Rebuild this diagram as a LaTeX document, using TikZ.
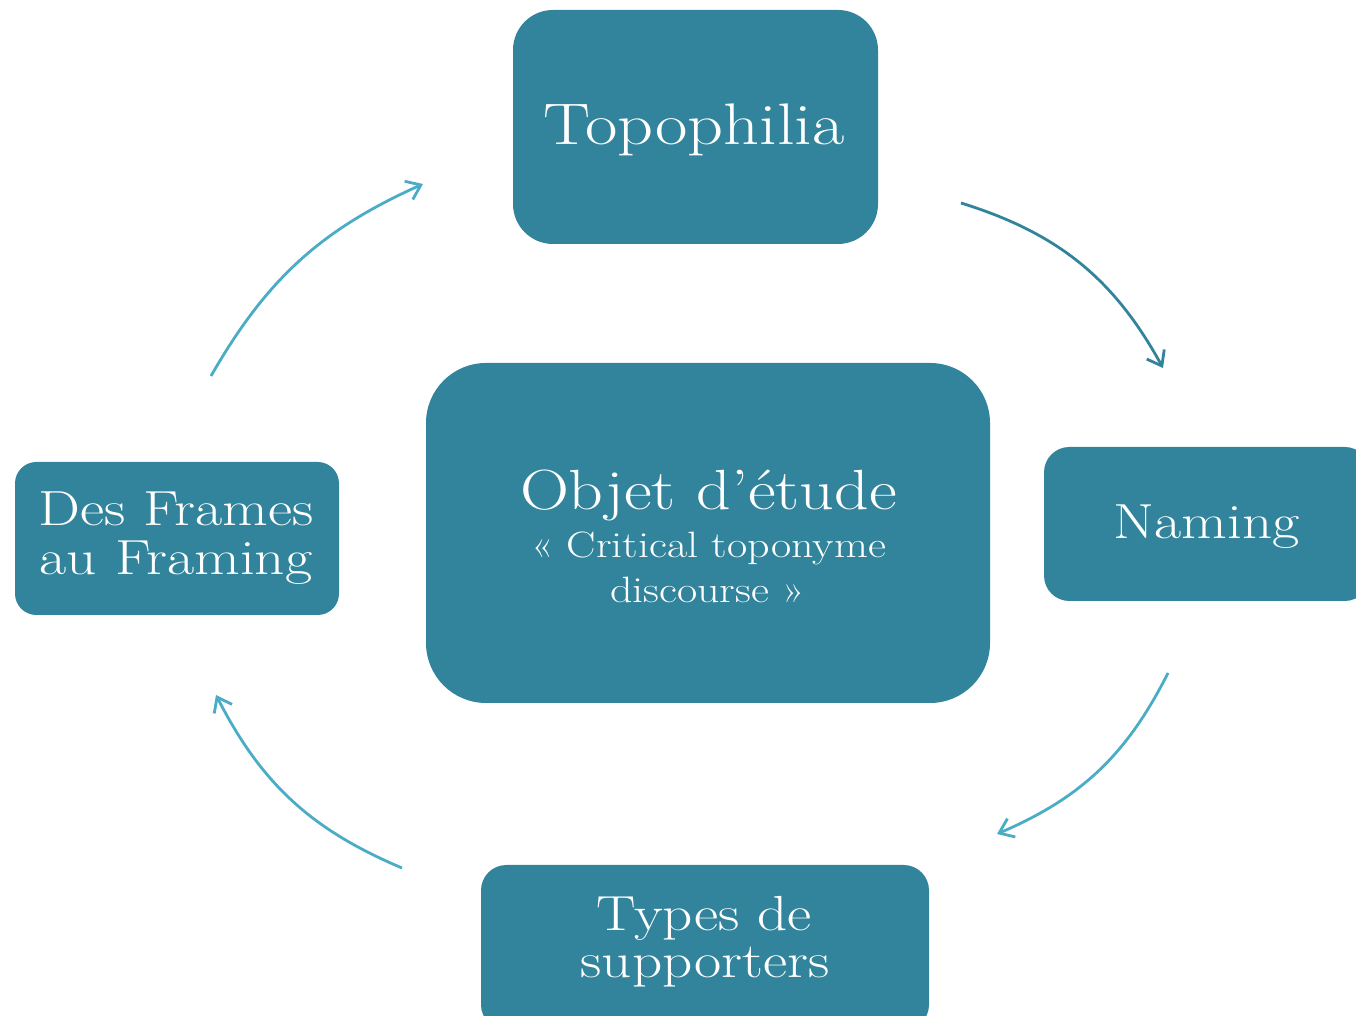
\documentclass[tikz,border=0pt]{standalone}
\usepackage{fontspec}
\setmainfont{Latin Modern Roman}[FakeStretch=1.2]
\usetikzlibrary{arrows.meta}
\definecolor{boxfill}{HTML}{31849B}
\definecolor{arrdark}{HTML}{31849B}
\definecolor{arrlight}{HTML}{4BACC6}
\begin{document}
\begin{tikzpicture}[x=0.75pt,y=0.75pt,
  box/.style={rectangle,fill=boxfill,inner sep=0pt},
  txt/.style={text=white,anchor=base,inner sep=0pt},
  big/.style={font=\fontsize{44}{44}\selectfont},
  mid/.style={font=\fontsize{37}{37}\selectfont},
  small/.style={font=\fontsize{27.5}{27.5}\selectfont},
  arr/.style={line width=2.1pt,-{Straight Barb[length=10pt,width=15pt,line width=2.1pt]}},
]
\useasboundingbox (0,0) rectangle (1356,1016);
\clip (0,0) rectangle (1356,1016);
% boxes
\node[box,minimum width=273.75pt,minimum height=175.5pt,rounded corners=30pt] (topo) at (695.5,889) {};
\node[box,minimum width=423pt,minimum height=255pt,rounded corners=45pt] (obj) at (708,483) {};
\node[box,minimum width=243pt,minimum height=114.75pt,rounded corners=16pt] (frames) at (177,477.5) {};
\node[box,minimum width=244.5pt,minimum height=115.5pt,rounded corners=19pt] (naming) at (1207,492) {};
\node[box,minimum width=336pt,minimum height=123.75pt,rounded corners=19pt] (types) at (705,68.5) {};
% texts
\node[txt,big] (topoT) at (694,871) {Topophilia};
\node[txt,font=\fontsize{42.5}{42.5}\selectfont] (objT1) at (708.5,506) {Objet d’étude};
\node[txt,small] (objT2) at (708.5,458) {« Critical toponyme};
\node[txt,small] (objT3) at (707.5,413) {discourse »};
\node[txt,mid] (framesT1) at (176,490) {Des Frames};
\node[txt,mid] (framesT2) at (176,441) {au Framing};
\node[txt,mid] (namingT) at (1206.5,477) {Naming};
\node[txt,mid] (typesT1) at (704,85) {Types de};
\node[txt,mid] (typesT2) at (705,38) {supporters};
% arrows
\coordinate (a1s) at (961,813);
\coordinate (a1e) at (1163,648);
\coordinate (a2s) at (1168,343);
\coordinate (a2e) at (997,182);
\coordinate (a3s) at (402,148);
\coordinate (a3e) at (216,321);
\coordinate (a4s) at (211,640);
\coordinate (a4e) at (423,832);
\draw[arr,arrdark] (a1s) to[bend left=22] (a1e);
\draw[arr,arrlight] (a2s) to[bend left=20] (a2e);
\draw[arr,arrlight] (a3s) to[bend left=20] (a3e);
\draw[arr,arrlight] (a4s) to[bend left=18] (a4e);
\end{tikzpicture}
\end{document}
